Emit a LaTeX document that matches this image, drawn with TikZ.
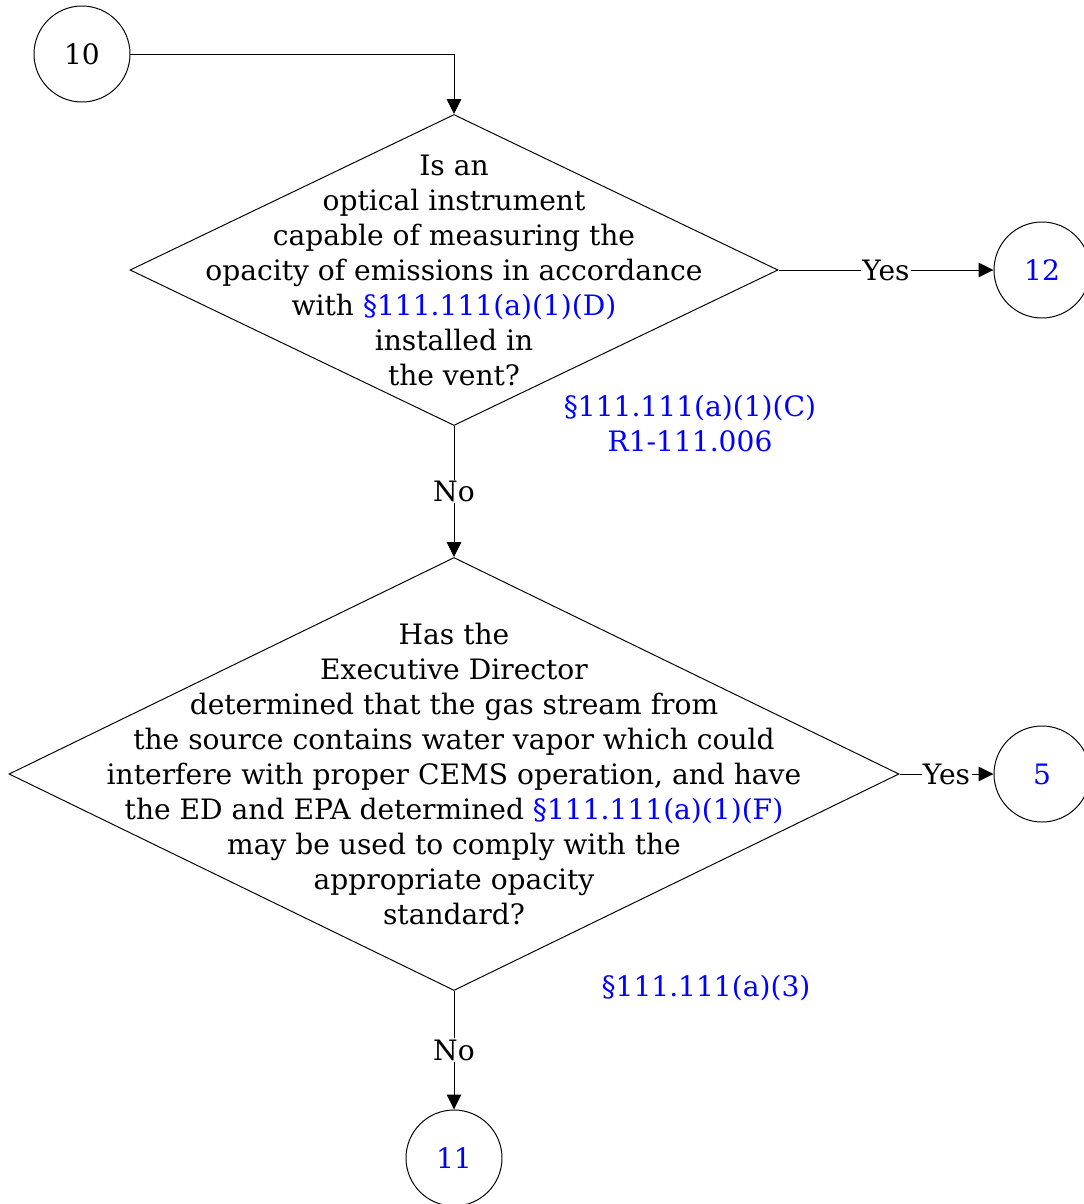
\documentclass[tikz,border=0pt]{standalone}
\usepackage{fontspec}
\setmainfont{DejaVu Serif}
\usepackage{xcolor}
\usetikzlibrary{shapes.geometric,arrows.meta}
\definecolor{refblue}{RGB}{0,0,255}

\begin{document}
\begin{tikzpicture}[
    font=\fontsize{20}{24.9}\selectfont,
    line width=0.7pt,
    conn/.style={-{Triangle[length=0.37cm,width=0.36cm]}},
    decision/.style={draw, diamond, inner sep=0pt},
    offpage/.style={draw, circle, minimum size=2.4cm, inner sep=0pt},
    qtext/.style={align=center},
    reftext/.style={text=refblue, align=center},
    answer/.style={fill=white, inner sep=1pt}
]
    \useasboundingbox (0,0) rectangle (27.1,-30.1);
    % off-page connectors
    \node[offpage] (c10) at (2.05,-1.35) {10};
    \node[offpage, text=refblue] (c12) at (26.05,-6.75) {12};
    \node[offpage, text=refblue] (c5) at (26.05,-19.35) {5};
    \node[offpage, text=refblue] (c11) at (11.35,-28.95) {11};
    % first question
    \node[decision, minimum width=16.2cm, minimum height=7.775cm] (q1) at (11.35,-6.75) {};
    \node[qtext] (q1text) at (q1) {Is an\\optical instrument\\capable of measuring the\\opacity of emissions in accordance\\with \textcolor{refblue}{§111.111(a)(1)(D)}\\installed in\\the vent?};
    \node[reftext] (q1ref) at (17.25,-10.6) {§111.111(a)(1)(C)\\R1-111.006};
    % second question
    \node[decision, minimum width=22.25cm, minimum height=10.825cm] (q2) at (11.35,-19.35) {};
    \node[qtext] (q2text) at (q2) {Has the\\Executive Director\\determined that the gas stream from\\the source contains water vapor which could\\interfere with proper CEMS operation, and have\\the ED and EPA determined \textcolor{refblue}{§111.111(a)(1)(F)}\\may be used to comply with the\\appropriate opacity\\standard?};
    \node[reftext] (q2ref) at (17.65,-24.7) {§111.111(a)(3)};
    % connectors
    \draw[conn] (c10.east) -| (q1.north);
    \draw[conn] (q1.east) -- node[answer] {Yes} (c12.west);
    \draw[conn] (q1.south) -- node[answer] {No} (q2.north);
    \draw[conn] (q2.east) -- node[answer] {Yes} (c5.west);
    \draw[conn] (q2.south) -- node[answer] {No} (c11.north);
\end{tikzpicture}
\end{document}
